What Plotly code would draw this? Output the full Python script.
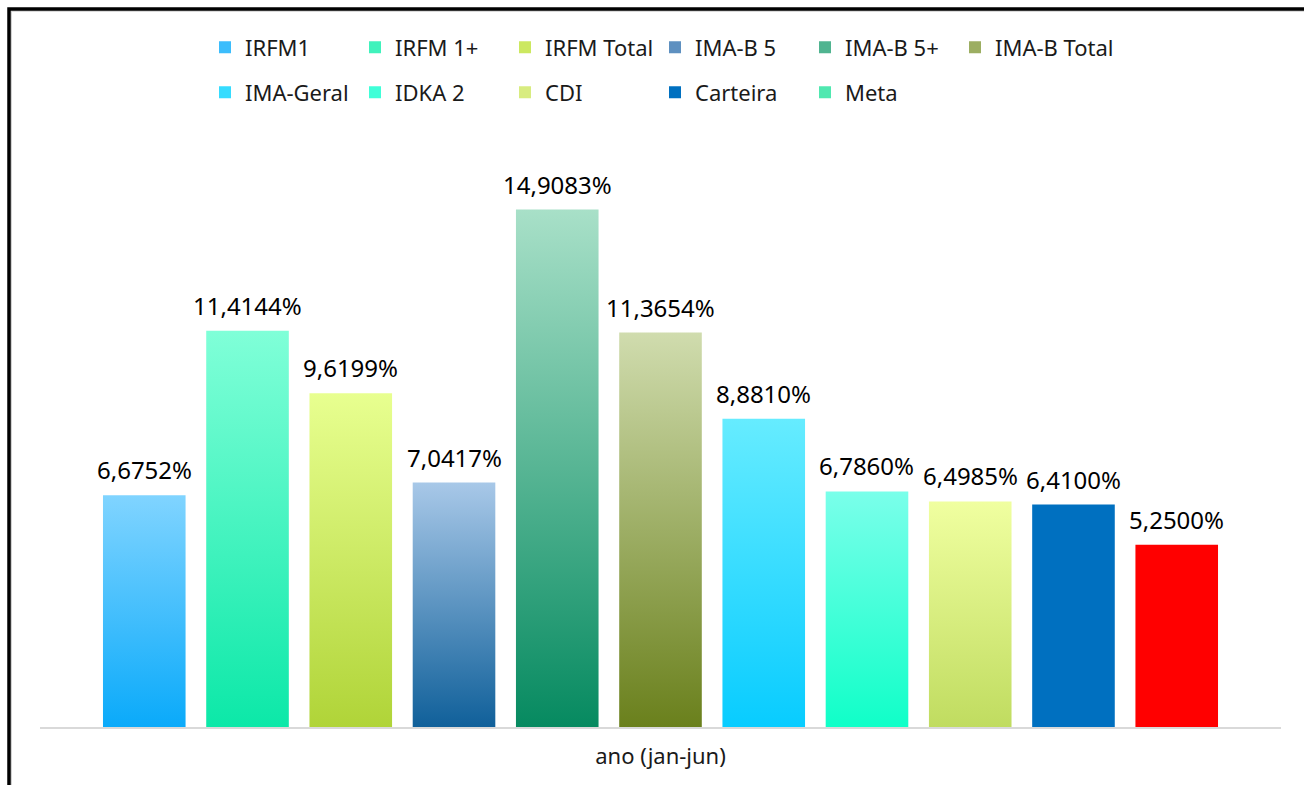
import plotly.graph_objects as go

categories = ["IRFM1", "IRFM 1+", "IRFM Total", "IMA-B 5", "IMA-B 5+", "IMA-B Total",
              "IMA-Geral", "IDKA 2", "CDI", "Carteira", "Meta"]
values = [6.6752, 11.4144, 9.6199, 7.0417, 14.9083, 11.3654, 8.8810, 6.7860, 6.4985, 6.4100, 5.2500]
top_colors = ["#80d4ff", "#80ffd8", "#e8ff90", "#a8c8e8", "#a8e0c8", "#d0dcae",
              "#66ecff", "#7affea", "#f0ffa0", "#0070c0", "#ff0000"]
bottom_colors = ["#0aaafa", "#0ce8a8", "#b0d438", "#10609a", "#068a60", "#6a801c",
                 "#08ccff", "#10ffc8", "#c0dc60", "#0070c0", "#ff0000"]
legend_colors = ["#3cbdfc", "#40f2bc", "#cce860", "#5e90c0", "#50b490", "#9cae62",
                 "#36dcff", "#40ffd8", "#d8ec80", "#0070c0", "#50e8b0"]
legend_groups = ["legend"] * 5 + ["legend3"] + ["legend2"] * 5
x_title = "ano (jan-jun)"

FONT = "Noto Sans"
L, R_EDGE, T, B = 40, 1281, 137.4, 727
YMAX = 17.0
W = R_EDGE - L
H = B - T


def px_x(p):
    return (p - L) / W


def px_y(p):
    return (B - p) / H


fig = go.Figure()
half = 0.4
for i, (name, v) in enumerate(zip(categories, values)):
    xs = [i - half, i + half, i + half, i - half, i - half]
    ys = [0, 0, v, v, 0]
    kw = {}
    if top_colors[i] == bottom_colors[i]:
        kw["fillcolor"] = top_colors[i]
    else:
        kw["fillgradient"] = dict(type="vertical",
                                  colorscale=[[0, bottom_colors[i]], [1, top_colors[i]]],
                                  start=0, stop=v)
    fig.add_trace(go.Scatter(x=xs, y=ys, fill="toself", mode="none", showlegend=False,
                             hoverinfo="skip", **kw))

# legend entries
for i, name in enumerate(categories):
    fig.add_trace(go.Bar(x=[None], y=[None], name=name, marker_color=legend_colors[i],
                         marker_line_width=0, legend=legend_groups[i]))

# value labels
for i, v in enumerate(values):
    fig.add_annotation(x=i, y=v, text=f"{v:.4f}".replace(".", ",") + "%",
                       showarrow=False, yanchor="bottom", yshift=7,
                       font=dict(family=FONT, size=24, color="#000000"))

leg_common = dict(orientation="h", xanchor="left", yanchor="middle",
                  font=dict(family=FONT, size=22, color="#1a1a1a"),
                  bgcolor="rgba(0,0,0,0)", itemclick=False)

# border
fig.add_shape(type="rect", xref="paper", yref="paper",
              x0=px_x(11.2), x1=px_x(1400), y0=px_y(900), y1=px_y(11.6),
              line=dict(color="#d0d0d0", width=1.5), fillcolor="rgba(0,0,0,0)", layer="below")
fig.add_shape(type="rect", xref="paper", yref="paper",
              x0=px_x(9), x1=px_x(1400), y0=px_y(900), y1=px_y(9.5),
              line=dict(color="#000000", width=3.5), fillcolor="rgba(0,0,0,0)")

fig.update_layout(
    width=1304, height=785,
    margin=dict(l=L, r=1304 - R_EDGE, t=T, b=785 - B),
    paper_bgcolor="white", plot_bgcolor="white",
    font=dict(family=FONT, size=22, color="#1a1a1a"),
    legend=dict(x=px_x(205), y=px_y(48), entrywidth=105, entrywidthmode="pixels", **leg_common),
    legend2=dict(x=px_x(205), y=px_y(93), entrywidth=105, entrywidthmode="pixels", **leg_common),
    legend3=dict(x=px_x(955), y=px_y(48), **leg_common),
    xaxis=dict(range=[-1.01, 11.01], showticklabels=False, ticks="", showgrid=False,
               zeroline=False, showline=True, linecolor="#d9d9d9", linewidth=2,
               title=dict(text=x_title, standoff=21,
                          font=dict(family=FONT, size=22, color="#1a1a1a"))),
    yaxis=dict(range=[0, YMAX], visible=False, showgrid=False, zeroline=False),
    showlegend=True,
)

fig.write_html("out.html")
